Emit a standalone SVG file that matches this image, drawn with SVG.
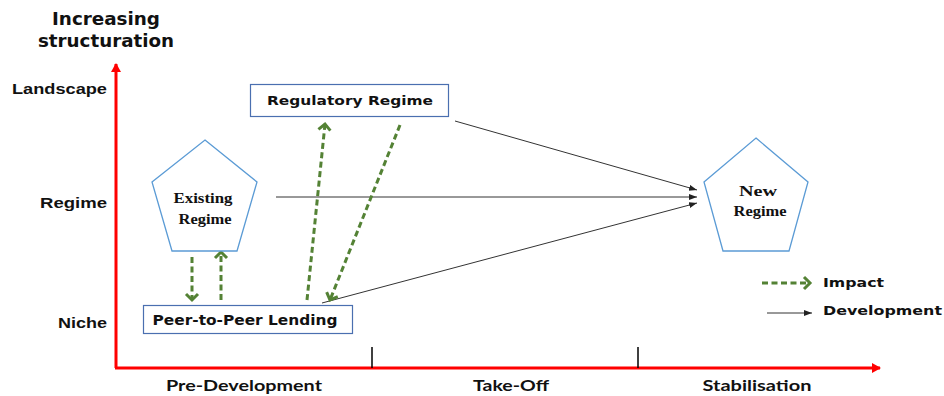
<svg xmlns="http://www.w3.org/2000/svg" width="944" height="396" viewBox="0 0 944 396">
  <style>
    .lbl { font-family: "DejaVu Sans", Verdana, sans-serif; font-weight: bold; fill: #111; }
    .axis-lbl { font-family: "Liberation Sans", Arial, sans-serif; font-weight: bold; fill: #111; font-size: 15px; }
    .phase { font-family: Lato, "Liberation Sans", sans-serif; font-weight: bold; fill: #111; font-size: 16px; }
    .serif { font-family: "Liberation Serif", "Times New Roman", serif; font-weight: bold; fill: #111; font-size: 15px; }
    .box { fill: #fff; stroke: #4a6fb0; stroke-width: 1.2; }
    .pent { fill: #fff; stroke: #5b9bd5; stroke-width: 1.3; }
    .axis { stroke: #ff0000; stroke-width: 3; fill: none; }
    .dev { stroke: #333; stroke-width: 1; fill: none; marker-end: url(#devHead); }
    .imp { stroke: #548235; stroke-width: 3; stroke-dasharray: 6 3.5; fill: none; marker-end: url(#impHead); }
  </style>
  <defs>
    <marker id="redHead" markerUnits="userSpaceOnUse" markerWidth="12" markerHeight="12" refX="8" refY="5" orient="auto">
      <path d="M0,0 L9,5 L0,10 Z" fill="#ff0000"/>
    </marker>
    <marker id="devHead" markerUnits="userSpaceOnUse" markerWidth="10" markerHeight="10" refX="8" refY="3" orient="auto">
      <path d="M0,0 L8,3 L0,6 Z" fill="#222"/>
    </marker>
    <marker id="impHead" markerUnits="userSpaceOnUse" markerWidth="16" markerHeight="16" refX="8" refY="8" orient="auto">
      <path d="M2,2 L8,8 L2,14" fill="none" stroke="#548235" stroke-width="3"/>
    </marker>
  </defs>

  <!-- axes -->
  <g id="axes">
    <line class="axis" x1="116" y1="368" x2="116" y2="64" marker-end="url(#redHead)"/>
    <line class="axis" x1="115" y1="368" x2="880" y2="368" marker-end="url(#redHead)"/>
    <line x1="372" y1="347" x2="372" y2="368" stroke="#000" stroke-width="1.5"/>
    <line x1="638" y1="347" x2="638" y2="368" stroke="#000" stroke-width="1.5"/>
    <text class="lbl" x="106" y="25" font-size="17" text-anchor="middle" textLength="108" lengthAdjust="spacingAndGlyphs">Increasing</text>
    <text class="lbl" x="106" y="47" font-size="17" text-anchor="middle" textLength="136" lengthAdjust="spacingAndGlyphs">structuration</text>
    <text class="axis-lbl" x="107" y="94" text-anchor="end" textLength="95" lengthAdjust="spacingAndGlyphs">Landscape</text>
    <text class="axis-lbl" x="107" y="208" text-anchor="end" textLength="67" lengthAdjust="spacingAndGlyphs">Regime</text>
    <text class="axis-lbl" x="107" y="328" text-anchor="end" textLength="49" lengthAdjust="spacingAndGlyphs">Niche</text>
    <text class="phase" x="244" y="391" text-anchor="middle" textLength="156" lengthAdjust="spacingAndGlyphs">Pre-Development</text>
    <text class="phase" x="511" y="391" text-anchor="middle" textLength="76" lengthAdjust="spacingAndGlyphs">Take-Off</text>
    <text class="phase" x="757" y="391" text-anchor="middle" textLength="109" lengthAdjust="spacingAndGlyphs">Stabilisation</text>
  </g>

  <!-- connectors -->
  <g id="connectors">
    <line class="dev" x1="455" y1="121" x2="697" y2="190"/>
    <line class="dev" x1="276" y1="197" x2="697" y2="197"/>
    <line class="dev" x1="322" y1="303" x2="697" y2="203"/>
    <line class="imp" x1="307" y1="300" x2="325" y2="124"/>
    <line class="imp" x1="400" y1="125" x2="330" y2="300"/>
    <line class="imp" x1="192" y1="257" x2="192" y2="300"/>
    <line class="imp" x1="221" y1="300" x2="221" y2="252"/>
  </g>

  <!-- nodes -->
  <g id="regulatory-regime">
    <rect class="box" x="250.5" y="84.5" width="198" height="32"/>
    <text class="lbl" x="350" y="105" font-size="13" text-anchor="middle" textLength="166" lengthAdjust="spacingAndGlyphs">Regulatory Regime</text>
  </g>
  <g id="existing-regime">
    <polygon class="pent" points="205,140 257,182 237,251 172,251 152,182"/>
    <text class="serif" x="203" y="203" text-anchor="middle" textLength="59" lengthAdjust="spacingAndGlyphs">Existing</text>
    <text class="serif" x="205" y="224" text-anchor="middle" textLength="53" lengthAdjust="spacingAndGlyphs">Regime</text>
  </g>
  <g id="p2p-lending">
    <rect class="box" x="143.5" y="305.5" width="209" height="28"/>
    <text class="lbl" x="245" y="325" font-size="13.5" text-anchor="middle" textLength="185" lengthAdjust="spacingAndGlyphs">Peer-to-Peer Lending</text>
  </g>
  <g id="new-regime">
    <polygon class="pent" points="756,138 808,182 789,251 723,251 704,182"/>
    <text class="serif" x="758" y="196" text-anchor="middle" textLength="38" lengthAdjust="spacingAndGlyphs">New</text>
    <text class="serif" x="760" y="216" text-anchor="middle" textLength="53" lengthAdjust="spacingAndGlyphs">Regime</text>
  </g>

  <!-- legend -->
  <g id="legend">
    <line class="imp" x1="762" y1="283" x2="810" y2="283"/>
    <text class="lbl" x="823" y="287" font-size="13" textLength="61" lengthAdjust="spacingAndGlyphs">Impact</text>
    <line class="dev" x1="767" y1="313" x2="812" y2="313"/>
    <text class="lbl" x="823" y="315" font-size="13" textLength="119" lengthAdjust="spacingAndGlyphs">Development</text>
  </g>
</svg>
